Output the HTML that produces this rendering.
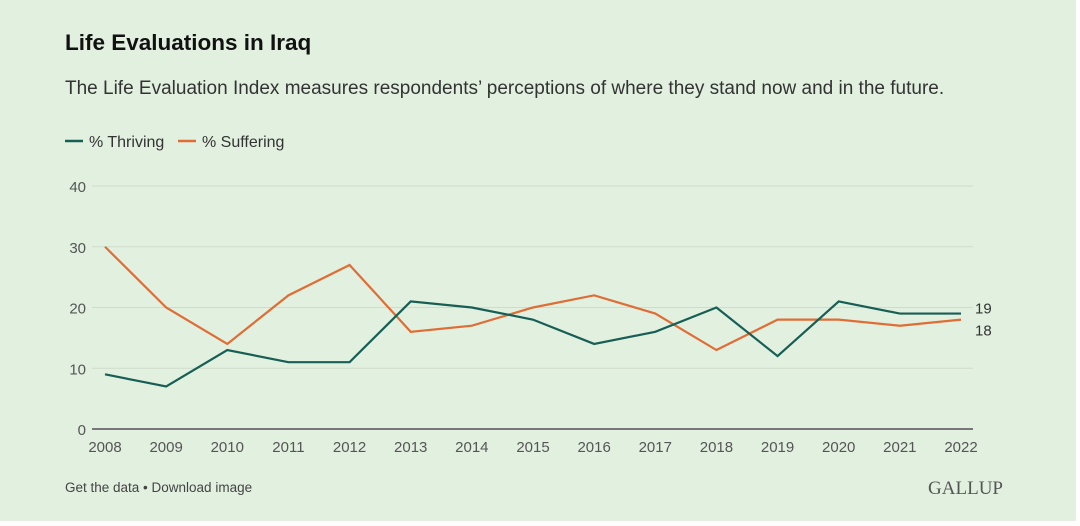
<!DOCTYPE html>
<html><head><meta charset="utf-8"><style>
body{margin:0;width:1080px;height:525px;background:#fff;overflow:hidden;font-family:"Liberation Sans",sans-serif}
#card{position:absolute;left:0;top:0;width:1076px;height:521px;background:#e2f0e0}
</style></head><body>
<div id="card">
<svg width="1076" height="521">
<text x="65" y="50" font-size="22.5" font-weight="bold" fill="#111">Life Evaluations in Iraq</text>
<text x="65" y="94" font-size="19" fill="#333">The Life Evaluation Index measures respondents’ perceptions of where they stand now and in the future.</text>
<g>
<line x1="65" y1="141" x2="83" y2="141" stroke="#175e54" stroke-width="2.5"/>
<text x="89" y="147" font-size="16" fill="#333">% Thriving</text>
<line x1="178" y1="141" x2="196" y2="141" stroke="#e06d35" stroke-width="2.5"/>
<text x="202" y="147" font-size="16" fill="#333">% Suffering</text>
</g>
<g id="grid"></g><g id="xt"></g><g id="lines"></g>
<text x="65" y="492" font-size="13.5" fill="#444">Get the data • Download image</text>
<text x="1003" y="494" font-size="19" fill="#555" text-anchor="end" font-family="Liberation Serif,serif">GALLUP</text>
</svg></div>
<script>
const years=[2008,2009,2010,2011,2012,2013,2014,2015,2016,2017,2018,2019,2020,2021,2022];
const thriving=[9,7,13,11,11,21,20,18,14,16,20,12,21,19,19];
const suffering=[30,20,14,22,27,16,17,20,22,19,13,18,18,17,18];
const yTicks=[0,10,20,30,40];
const NS="http://www.w3.org/2000/svg";
const x=i=>105+i*(961-105)/14, y=v=>429-v*(429-186)/40;
function mk(t,a,p){const e=document.createElementNS(NS,t);for(const k in a)e.setAttribute(k,a[k]);document.getElementById(p).appendChild(e);return e;}
yTicks.forEach(v=>{
 const l=mk('line',{x1:92,x2:973,y1:y(v),y2:y(v),stroke:v?'#cfdccc':'#777','stroke-width':v?1:2},'grid');
 
 
 const t=mk('text',{x:86,y:y(v)+6,'text-anchor':'end','font-size':15,fill:'#555'},'grid');t.textContent=v;
 
 
});
years.forEach((yr,i)=>{
 const t=mk('text',{x:x(i),y:452,'text-anchor':'middle','font-size':15,fill:'#555'},'xt');t.textContent=yr;
 
 
});
[[suffering,'#e06d35','suffering'],[thriving,'#175e54','thriving']].forEach(([d,c,n])=>{
 const p=mk('polyline',{points:d.map((v,i)=>x(i)+','+y(v)).join(' '),fill:'none',stroke:c,'stroke-width':2.2},'lines');
 
 
});
const lt=mk('text',{x:975,y:y(thriving[14])+0,'font-size':15,fill:'#333'},'lines');lt.textContent=thriving[14];


const ls=mk('text',{x:975,y:y(suffering[14])+16,'font-size':15,fill:'#333'},'lines');ls.textContent=suffering[14];


</script></body></html>
